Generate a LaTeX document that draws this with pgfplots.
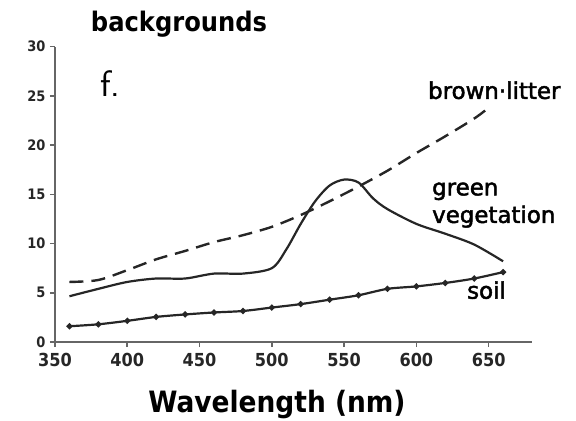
\documentclass[border=0pt]{standalone}
\usepackage{pgfplots}
\pgfplotsset{compat=1.18}
\usepackage{fontspec}
\newfontfamily\lblfont[FakeBold=2]{DejaVu Sans}
\newfontfamily\condfont{DejaVu Sans Condensed}

% reflectance spectra (%) of the three backgrounds
\pgfplotstableread{
wl   soil
360  1.6
380  1.8
400  2.15
420  2.55
440  2.8
460  3.0
480  3.15
500  3.5
520  3.85
540  4.3
560  4.75
580  5.4
600  5.65
620  6.0
640  6.45
660  7.1
}\soiltable

\pgfplotstableread{
wl   green
360  4.65
380  5.4
400  6.1
420  6.45
440  6.45
460  6.95
480  6.95
500  7.5
510  9.4
520  12.0
530  14.3
540  15.9
550  16.5
560  16.2
570  14.6
580  13.5
600  12.0
620  11.0
640  9.9
660  8.2
}\greentable

\pgfplotstableread{
wl   litter
360  6.1
380  6.3
400  7.3
420  8.4
440  9.25
460  10.15
480  10.85
500  11.7
520  12.9
540  14.3
560  15.8
580  17.4
600  19.2
620  20.9
640  22.7
650  23.8
}\littertable

\begin{document}
\begin{tikzpicture}[x=1bp,y=1bp]
\useasboundingbox (-55,-78) rectangle (521,342);
\begin{axis}[
  at={(0,0)}, anchor=origin,
  scale only axis, width=477bp, height=295.3bp,
  xmin=350, xmax=680, ymin=0, ymax=30,
  axis lines=left,
  axis line style={-, line width=2.2bp, black!60},
  xtick={350,400,...,650},
  ytick={0,5,...,30},
  tick style={line width=1.6bp, black!60},
  tickwidth=5bp,
  tick align=outside,
  /pgf/number format/assume math mode=true,
  xticklabel style={font=\condfont\bfseries\fontsize{18}{18}\selectfont, text=black!85, yshift=-3bp},
  yticklabel style={font=\condfont\bfseries\fontsize{14.5}{14.5}\selectfont, text=black!85, xshift=-1bp},
  clip=false,
]
\addplot[line width=2.2bp, black!85, smooth, tension=0.5,
  mark=*, mark size=1.8bp, mark options={fill=black!85, draw=black!85}]
  table[x=wl, y=soil] {\soiltable};
\addplot[line width=2.2bp, black!85, smooth, tension=0.5]
  table[x=wl, y=green] {\greentable};
\addplot[line width=2.4bp, black!85, smooth, tension=0.5,
  dash pattern=on 14bp off 8bp]
  table[x=wl, y=litter] {\littertable};

\node[anchor=base, inner sep=0, font=\condfont\bfseries\fontsize{27}{27}\selectfont]
  at (axis cs:435.8,31.5) {backgrounds};
\node[anchor=base west, inner sep=0, font=\sffamily\fontsize{37}{37}\selectfont]
  at (axis cs:381,24.9) {f.};
\node[anchor=base west, inner sep=0, font=\lblfont\fontsize{23}{23}\selectfont]
  at (axis cs:608,24.7) {brown·litter};
\node[anchor=base west, inner sep=0, font=\lblfont\fontsize{23}{23}\selectfont]
  at (axis cs:610.8,14.9) {green};
\node[anchor=base west, inner sep=0, font=\lblfont\fontsize{23}{23}\selectfont]
  at (axis cs:610.8,12.1) {vegetation};
\node[anchor=base west, inner sep=0, font=\lblfont\fontsize{23}{23}\selectfont]
  at (axis cs:635,4.4) {soil};
\node[anchor=base, inner sep=0, font=\condfont\bfseries\fontsize{29.5}{29.5}\selectfont]
  at (axis cs:503.6,-7.2) {Wavelength (nm)};
\end{axis}
\end{tikzpicture}
\end{document}
